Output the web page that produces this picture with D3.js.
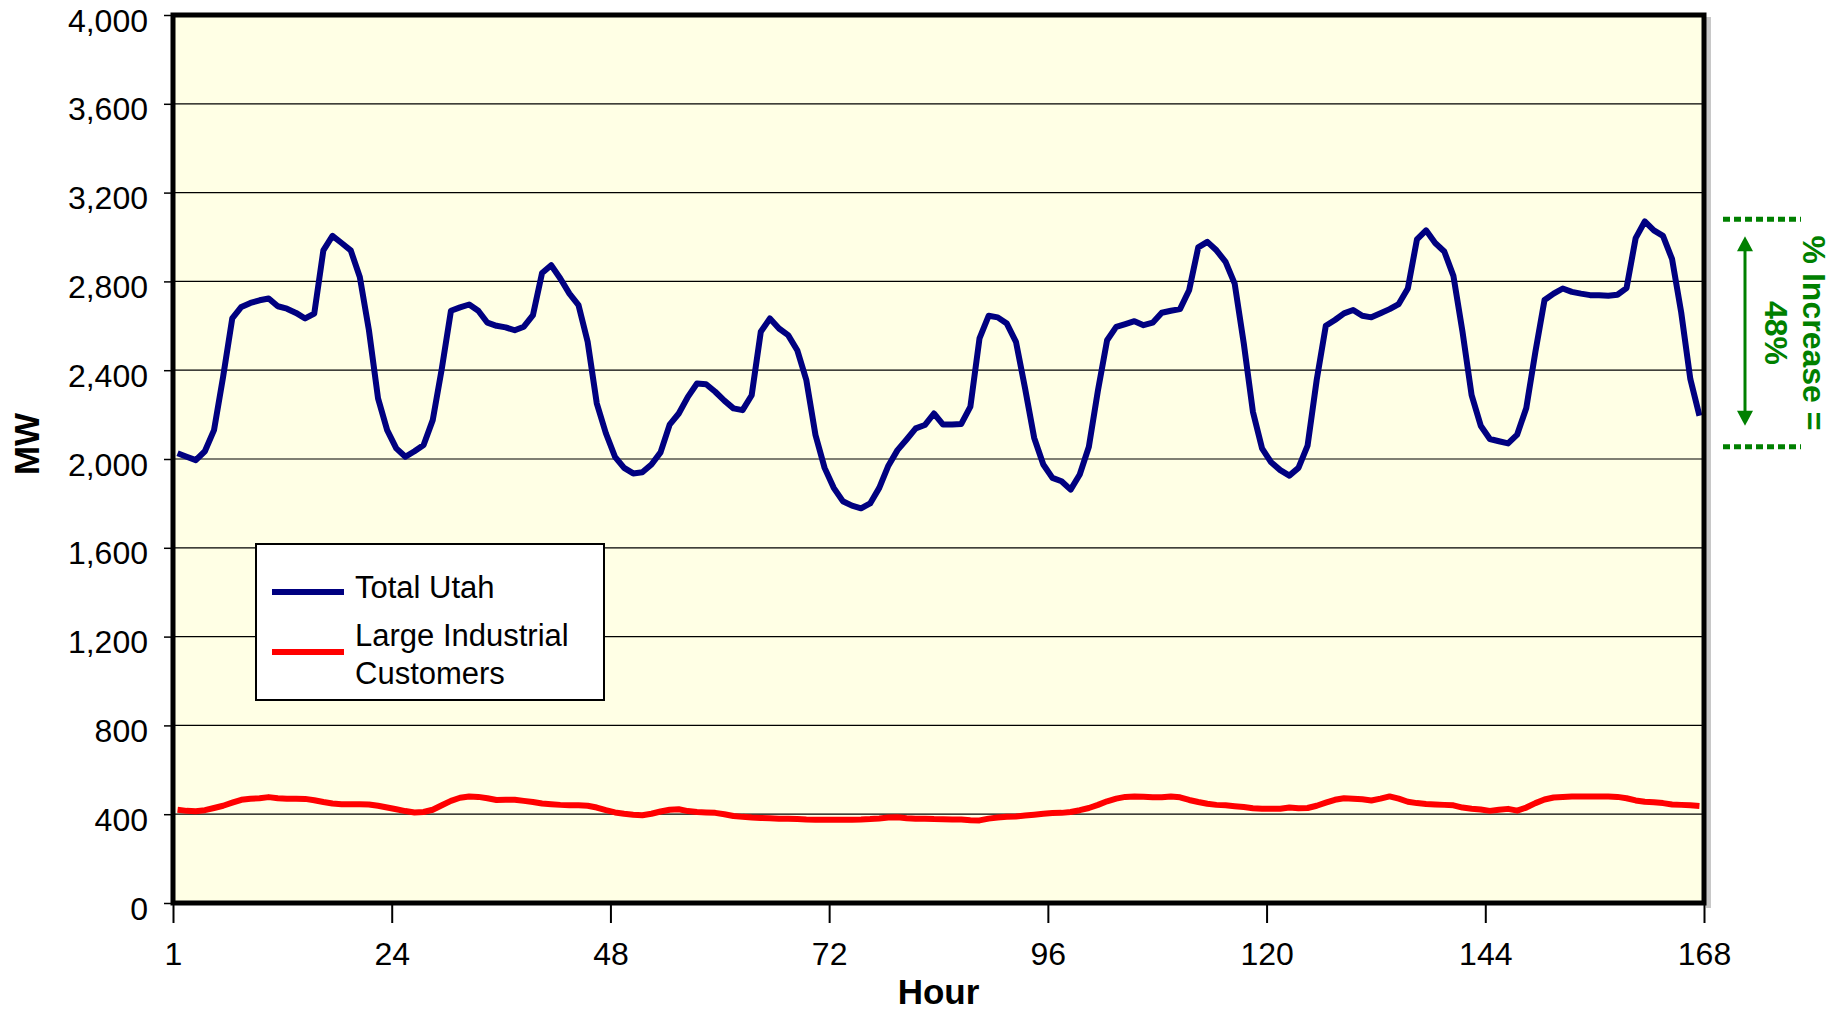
<!DOCTYPE html>
<html>
<head>
<meta charset="utf-8">
<script src="https://cdn.jsdelivr.net/npm/d3@7"></script>
<style>
  body { margin: 0; background: #ffffff; }
  text { font-family: "Liberation Sans", Arial, sans-serif; }
</style>
</head>
<body>
<div id="graph"></div>
<script>
// hourly load, one week (hour 1..168), MW
var hours = d3.range(1, 169);

var totalUtah = [
  2026, 2010, 1995, 2035, 2130, 2370, 2633, 2685, 2703, 2715, 2723, 2688,
  2677, 2658, 2633, 2655, 2940, 3005, 2973, 2940, 2820, 2580, 2273, 2130,
  2048, 2010, 2035, 2063, 2175, 2408, 2668, 2683, 2696, 2668, 2614, 2600,
  2593, 2580, 2596, 2648, 2838, 2873, 2813, 2745, 2693, 2528, 2251, 2116,
  2010, 1960, 1935, 1940, 1975, 2030, 2155, 2205, 2280, 2340, 2337, 2303,
  2263, 2228, 2220, 2287, 2573, 2633, 2588, 2558, 2490, 2355, 2108, 1960,
  1870, 1810, 1790, 1778, 1800, 1870, 1970, 2040, 2088, 2138, 2153, 2205,
  2155, 2155, 2158, 2236, 2543, 2645, 2638, 2610, 2528, 2318, 2095, 1975,
  1915, 1900, 1862, 1930, 2055, 2310, 2535, 2595, 2608, 2621, 2603, 2614,
  2659, 2668, 2675, 2760, 2953, 2978, 2940, 2888, 2790, 2520, 2213, 2048,
  1985, 1950, 1925, 1960, 2060, 2356, 2600, 2626, 2656, 2671, 2645, 2638,
  2656, 2675, 2698, 2768, 2989, 3030, 2973, 2935, 2825, 2573, 2288, 2150,
  2090, 2080, 2070, 2110, 2230, 2483, 2716, 2745, 2768, 2753, 2745, 2738,
  2738, 2735, 2740, 2770, 2995, 3070, 3030, 3005, 2900, 2660, 2360, 2195
];

var largeIndustrial = [
  420, 415, 413, 418, 428, 438, 452, 465, 470, 472, 477, 472,
  470, 470, 469, 463, 455, 448, 445, 445, 445, 444, 438, 430,
  422, 414, 408, 410, 420, 440, 460, 474, 480, 478, 472, 464,
  465, 465, 460, 455, 448, 445, 442, 440, 440, 438, 430, 418,
  408, 402, 398, 395, 402, 412, 420, 422, 414, 410, 408, 406,
  400, 392, 388, 385, 383, 382, 380, 380, 378, 376, 375, 375,
  375, 375, 375, 376, 378, 381, 385, 386, 382, 379, 380, 378,
  377, 376, 376, 373, 372, 380, 385, 388, 390, 394, 398, 402,
  405, 406, 410, 418, 428, 442, 458, 470, 478, 480, 479, 476,
  476, 480, 476, 464, 455, 447, 442, 440, 436, 432, 427, 425,
  424, 425, 430, 427, 428, 438, 452, 465, 472, 470, 467, 462,
  470, 480, 470, 456, 450, 446, 444, 442, 440, 430, 425, 421,
  415, 420, 424, 416, 430, 450, 466, 475, 478, 480, 480, 480,
  480, 480, 478, 472, 462, 456, 454, 450, 444, 442, 440, 437
];

var xTicks = [0, 24, 48, 72, 96, 120, 144, 168];
var yTicks = [0, 400, 800, 1200, 1600, 2000, 2400, 2800, 3200, 3600, 4000];

var seriesNames = ["Total Utah", "Large Industrial Customers"];
var seriesColors = ["#000080", "#ff0000"];

// the "% Increase" bracket levels (MW)
var increaseLow = 2055,
    increaseHigh = 3080,
    increaseLabel = ["% Increase =", "48%"];

var width = 1844,
    height = 1013;

var plot = { left: 173, right: 1704, top: 15, bottom: 903 };

var x = d3.scaleLinear().domain([0, 168]).range([plot.left, plot.right]);
var y = d3.scaleLinear().domain([0, 4000]).range([plot.bottom, plot.top]);

var svg = d3.select("#graph").append("svg")
    .attr("width", width)
    .attr("height", height)
    .style("display", "block");

// shadow on the right of the frame
svg.append("rect")
    .attr("x", plot.right + 2)
    .attr("y", plot.top + 2)
    .attr("width", 5)
    .attr("height", plot.bottom - plot.top + 3)
    .attr("fill", "#c8c8c8");

svg.append("rect")
    .attr("x", plot.left)
    .attr("y", plot.top)
    .attr("width", plot.right - plot.left)
    .attr("height", plot.bottom - plot.top)
    .attr("fill", "#ffffe5");

// horizontal gridlines
svg.selectAll("line.grid")
    .data(yTicks.slice(1, -1))
    .enter().append("line")
    .attr("class", "grid")
    .attr("x1", plot.left)
    .attr("x2", plot.right)
    .attr("y1", function(d) { return y(d); })
    .attr("y2", function(d) { return y(d); })
    .attr("stroke", "#000")
    .attr("stroke-width", 1.2);

// y axis
var yAxis = d3.axisLeft(y)
    .tickValues(yTicks)
    .tickSize(9)
    .tickPadding(16)
    .tickFormat(d3.format(","));

svg.append("g")
    .attr("transform", "translate(" + plot.left + ",0)")
    .call(yAxis)
    .call(function(g) {
        g.select(".domain").remove();
        g.selectAll(".tick line").attr("stroke", "#000").attr("stroke-width", 1.5);
        g.selectAll(".tick text")
            .attr("dy", "0.5em")
            .style("font-size", "32px")
            .style("font-family", "'Liberation Sans', Arial, sans-serif")
            .attr("fill", "#000");
    });

// x axis
var xAxis = d3.axisBottom(x)
    .tickValues(xTicks)
    .tickSize(20)
    .tickPadding(19)
    .tickFormat(function(d) { return d === 0 ? "1" : d; });

svg.append("g")
    .attr("transform", "translate(0," + plot.bottom + ")")
    .call(xAxis)
    .call(function(g) {
        g.select(".domain").remove();
        g.selectAll(".tick line").attr("stroke", "#000").attr("stroke-width", 2);
        g.selectAll(".tick text")
            .style("font-size", "32px")
            .style("font-family", "'Liberation Sans', Arial, sans-serif")
            .attr("fill", "#000");
    });

// data lines
var line = d3.line()
    .x(function(d, i) { return x(hours[i] - 0.5); })
    .y(function(d) { return y(d); });

[largeIndustrial, totalUtah].forEach(function(values, k) {
    svg.append("path")
        .datum(values)
        .attr("fill", "none")
        .attr("stroke", k === 0 ? seriesColors[1] : seriesColors[0])
        .attr("stroke-width", 6)
        .attr("stroke-linejoin", "round")
        .attr("d", line);
});

// frame
svg.append("rect")
    .attr("x", plot.left)
    .attr("y", plot.top)
    .attr("width", plot.right - plot.left)
    .attr("height", plot.bottom - plot.top)
    .attr("fill", "none")
    .attr("stroke", "#000")
    .attr("stroke-width", 5);

// axis titles
svg.append("text")
    .attr("x", (plot.left + plot.right) / 2)
    .attr("y", 1004)
    .attr("text-anchor", "middle")
    .style("font-size", "35px")
    .style("font-weight", "bold")
    .text("Hour");

svg.append("text")
    .attr("transform", "translate(39,444) rotate(-90)")
    .attr("text-anchor", "middle")
    .style("font-size", "35px")
    .style("font-weight", "bold")
    .text("MW");

// legend
var legend = svg.append("g").attr("transform", "translate(256,544)");

legend.append("rect")
    .attr("width", 348)
    .attr("height", 156)
    .attr("fill", "#fff")
    .attr("stroke", "#000")
    .attr("stroke-width", 2);

legend.append("line")
    .attr("x1", 16).attr("x2", 88)
    .attr("y1", 48).attr("y2", 48)
    .attr("stroke", seriesColors[0])
    .attr("stroke-width", 6);

legend.append("text")
    .attr("x", 99).attr("y", 54)
    .style("font-size", "31px")
    .text(seriesNames[0]);

legend.append("line")
    .attr("x1", 16).attr("x2", 88)
    .attr("y1", 108).attr("y2", 108)
    .attr("stroke", seriesColors[1])
    .attr("stroke-width", 6);

legend.append("text")
    .attr("x", 99).attr("y", 102)
    .style("font-size", "31px")
    .text("Large Industrial");

legend.append("text")
    .attr("x", 99).attr("y", 140)
    .style("font-size", "31px")
    .text("Customers");

// % increase bracket
var green = "#008000";
var ann = svg.append("g");

[increaseHigh, increaseLow].forEach(function(v) {
    ann.append("line")
        .attr("x1", plot.right + 19)
        .attr("x2", plot.right + 97)
        .attr("y1", y(v))
        .attr("y2", y(v))
        .attr("stroke", green)
        .attr("stroke-width", 5)
        .attr("stroke-dasharray", "7,4");
});

var ax = plot.right + 41,
    aTop = y(increaseHigh) + 17,
    aBot = y(increaseLow) - 21;

ann.append("line")
    .attr("x1", ax).attr("x2", ax)
    .attr("y1", aTop + 12).attr("y2", aBot - 12)
    .attr("stroke", green)
    .attr("stroke-width", 3);

ann.append("path")
    .attr("d", "M" + ax + "," + aTop + " l-8,15 l16,0 Z")
    .attr("fill", green);

ann.append("path")
    .attr("d", "M" + ax + "," + aBot + " l-8,-15 l16,0 Z")
    .attr("fill", green);

var midY = (y(increaseHigh) + y(increaseLow)) / 2;

ann.append("text")
    .attr("transform", "translate(" + (plot.right + 99) + "," + midY + ") rotate(90)")
    .attr("text-anchor", "middle")
    .attr("fill", green)
    .style("font-size", "32px")
    .style("font-weight", "bold")
    .text(increaseLabel[0]);

ann.append("text")
    .attr("transform", "translate(" + (plot.right + 61) + "," + midY + ") rotate(90)")
    .attr("text-anchor", "middle")
    .attr("fill", green)
    .style("font-size", "32px")
    .style("font-weight", "bold")
    .text(increaseLabel[1]);
</script>
</body>
</html>
